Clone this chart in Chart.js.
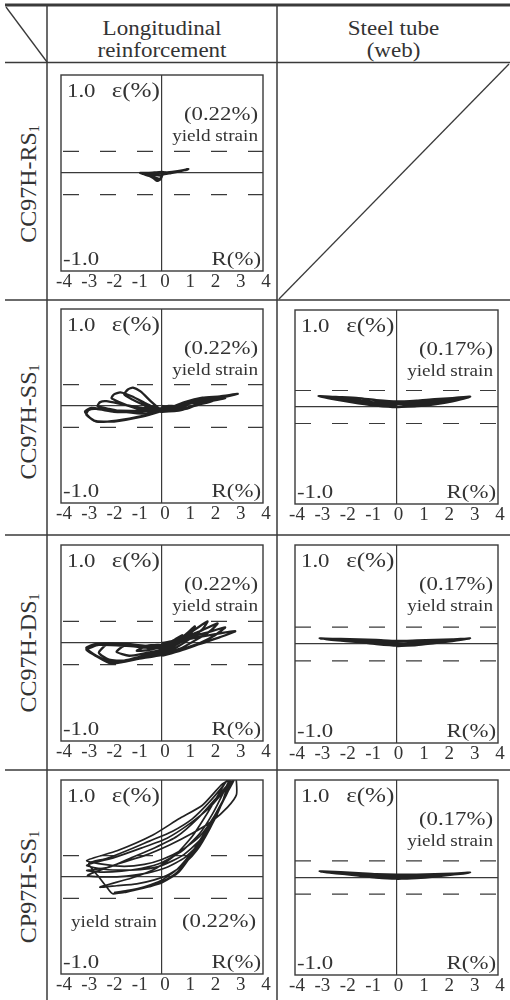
<!DOCTYPE html>
<html>
<head>
<meta charset="utf-8">
<script src="https://cdn.jsdelivr.net/npm/chart.js@4.4.1/dist/chart.umd.min.js"></script>
<style>
  body { margin: 0; background: #fff; }
  #page { position: relative; width: 510px; height: 1000px; overflow: hidden;
          font-family: 'Liberation Serif', 'Times New Roman', serif; color: #333; }
  #page canvas { position: absolute; }
  .hdr { position: absolute; text-align: center; font-size: 20px; line-height: 22px;
         transform: scaleX(1.15); }
  .row { position: absolute; font-size: 24px; white-space: nowrap;
         transform: translate(-50%, -50%) rotate(-90deg); }
  .row sub { font-size: 14px; vertical-align: -3px; }
</style>
</head>
<body>
<div id="page">
  <svg width="510" height="1000" style="position:absolute;left:0;top:0" stroke="#3a3a3a">
    <line x1="5" y1="5" x2="510" y2="5" stroke-width="3"/>
    <line x1="5" y1="62.5" x2="510" y2="62.5" stroke-width="1.5"/>
    <line x1="5" y1="300" x2="510" y2="300" stroke-width="1.5"/>
    <line x1="5" y1="535" x2="510" y2="535" stroke-width="1.5"/>
    <line x1="5" y1="770" x2="510" y2="770" stroke-width="1.5"/>
    <line x1="47" y1="6" x2="47" y2="1000" stroke-width="1.5"/>
    <line x1="277" y1="6" x2="277" y2="1000" stroke-width="1.5"/>
    <line x1="6" y1="7" x2="47" y2="62" stroke-width="1.3"/>
    <line x1="279" y1="299" x2="509" y2="64" stroke-width="1.3"/>
  </svg>

  <div class="hdr" style="left:47px;width:230px;top:17px">Longitudinal<br>reinforcement</div>
  <div class="hdr" style="left:277px;width:233px;top:17px">Steel tube<br>(web)</div>

  <div class="row" style="left:29px;top:184px">CC97H-RS<sub>1</sub></div>
  <div class="row" style="left:29px;top:422px">CC97H-SS<sub>1</sub></div>
  <div class="row" style="left:29px;top:653px">CC97H-DS<sub>1</sub></div>
  <div class="row" style="left:29px;top:887px">CP97H-SS<sub>1</sub></div>

  <canvas id="c1"></canvas>
  <canvas id="c2"></canvas>
  <canvas id="c3"></canvas>
  <canvas id="c4"></canvas>
  <canvas id="s2"></canvas>
  <canvas id="s3"></canvas>
  <canvas id="s4"></canvas>
</div>

<script>
// axes: drift angle R(%) and strain eps(%)
const rTicks = [-4, -3, -2, -1, 0, 1, 2, 3, 4];
const epsRange = [-1, 1];
const yieldLong = 0.22;   // longitudinal reinforcement
const yieldTube = 0.17;   // steel tube web

// [R(%), eps(%)] traces
const rs1Long = [
  [0, 0], [0.4, 0.01], [0.8, 0.025], [1.04, 0.04], [0.7, 0.02], [0.3, 0.0], [0, 0.01],
  [-0.3, 0.005], [-0.6, 0.0], [-0.87, 0.0], [-0.6, -0.02], [-0.35, -0.05], [-0.2, -0.08], [-0.05, -0.06], [0, -0.02],
  [0.35, 0.0], [0.75, 0.02], [1.0, 0.035], [0.6, 0.015], [0.2, -0.005], [-0.1, 0.0],
  [-0.45, 0.0], [-0.8, -0.005], [-0.5, -0.03], [-0.25, -0.065], [-0.1, -0.07], [0, -0.03],
  [-0.3, -0.02], [-0.6, -0.01], [-0.3, -0.045], [-0.1, -0.06], [0, -0.04]
];

const ss1Long = [
  [0, 0], [0.25, -0.01], [0.5, 0.0], [0.25, 0.0], [0, -0.02],
  [-0.3, -0.04], [-0.75, -0.03], [-0.5, 0.0], [-0.2, -0.02], [0, -0.04],
  [0.5, -0.03], [1.0, 0.01], [0.6, 0.0], [0.2, -0.03], [0, -0.05],
  [-0.3, -0.04], [-0.8, 0.02], [-1.2, 0.07], [-1.5, 0.12], [-1.35, 0.17], [-1.15, 0.19], [-0.85, 0.15], [-0.45, 0.05], [-0.1, -0.03], [0, -0.05],
  [0.6, -0.04], [1.1, -0.01], [1.5, 0.03], [1.1, 0.03], [0.5, -0.01], [0, -0.05],
  [-0.5, -0.06], [-1.2, -0.01], [-1.7, 0.04], [-2.0, 0.08], [-1.9, 0.12], [-1.65, 0.14], [-1.2, 0.1], [-0.6, 0.02], [-0.1, -0.04], [0, -0.05],
  [0.7, -0.04], [1.4, 0.01], [2.0, 0.05], [1.4, 0.04], [0.7, 0.0], [0, -0.04],
  [-0.6, -0.08], [-1.5, -0.06], [-2.1, -0.03], [-2.55, 0.0], [-2.45, 0.04], [-2.2, 0.05], [-1.6, 0.02], [-0.8, -0.02], [-0.1, -0.05], [0, -0.06],
  [0.8, -0.04], [1.6, 0.035], [2.5, 0.08], [1.7, 0.065], [0.8, 0.01], [0, -0.05],
  [-0.7, -0.1], [-1.8, -0.15], [-2.6, -0.16], [-3.0, -0.09], [-2.9, -0.04], [-2.6, -0.03], [-1.9, -0.06], [-1.0, -0.06], [-0.2, -0.05], [0, -0.06],
  [0.94, -0.03], [1.6, 0.035], [2.2, 0.075], [3.0, 0.125], [2.3, 0.1], [1.6, 0.085], [0.9, 0.04], [0.3, -0.02], [0, -0.05],
  [-0.8, -0.11], [-1.9, -0.16], [-2.7, -0.15], [-3.05, -0.06], [-2.8, -0.02], [-2.2, -0.04], [-1.2, -0.05], [-0.3, -0.04], [0, -0.05]
];

const ds1Long = [
  [0, 0], [0.4, 0.02], [0.8, 0.08], [0.6, 0.02], [0.2, -0.03], [0, -0.04],
  [-0.5, -0.07], [-1.0, -0.08], [-0.6, -0.03], [-0.2, -0.02], [0, -0.03],
  [0.5, 0.02], [0.9, 0.08], [1.3, 0.17], [1.15, 0.1], [0.8, 0.02], [0.4, -0.04], [0, -0.07],
  [-0.6, -0.1], [-1.3, -0.13], [-1.8, -0.09], [-1.5, -0.03], [-0.8, -0.03], [-0.2, -0.02], [0, -0.02],
  [0.6, 0.04], [1.2, 0.12], [1.8, 0.22], [1.6, 0.14], [1.2, 0.06], [0.6, -0.04], [0, -0.09],
  [-0.7, -0.13], [-1.5, -0.18], [-2.1, -0.17], [-2.5, -0.1], [-2.2, -0.02], [-1.4, -0.01], [-0.6, -0.03], [0, -0.03],
  [0.7, 0.04], [1.5, 0.12], [2.2, 0.2], [1.9, 0.12], [1.4, 0.04], [0.7, -0.06], [0, -0.1],
  [-0.8, -0.15], [-1.9, -0.2], [-2.6, -0.13], [-3.0, -0.05], [-2.6, -0.01], [-1.5, -0.01], [-0.6, -0.04], [0, -0.04],
  [0.8, 0.04], [1.7, 0.1], [2.5, 0.16], [2.1, 0.08], [1.5, 0.0], [0.7, -0.07], [0, -0.12],
  [-0.9, -0.16], [-2.0, -0.21], [-2.7, -0.12], [-3.0, -0.07], [-2.5, -0.02], [-1.4, -0.03], [-0.5, -0.05], [0, -0.05],
  [0.9, 0.03], [1.9, 0.08], [2.9, 0.12], [2.3, 0.06], [1.5, -0.01], [0.7, -0.08], [0, -0.13]
];

const cp97Long = [
  [-1.97, -0.175], [-1.5, -0.16], [-1.0, -0.13], [-0.5, -0.1], [0, -0.06], [0.67, 0.05], [1.33, 0.29], [1.86, 0.53], [2.52, 0.84], [2.85, 1.0],
  [2.6, 0.95], [2.1, 0.8], [1.4, 0.6], [0.6, 0.42], [-0.3, 0.3], [-1.2, 0.2], [-2.1, 0.1], [-2.98, 0.067],
  [-2.4, 0.05], [-1.6, 0.06], [-0.8, 0.09], [0, 0.15], [0.8, 0.27], [1.5, 0.45], [2.0, 0.65], [2.45, 0.88], [2.65, 1.0],
  [2.35, 0.95], [1.6, 0.74], [0.67, 0.6], [-0.38, 0.43], [-1.78, 0.27], [-2.98, 0.17],
  [-2.3, 0.13], [-1.5, 0.11], [-0.7, 0.13], [0, 0.18], [0.8, 0.28], [1.5, 0.42], [2.1, 0.64], [2.6, 0.88], [2.8, 1.0],
  [2.5, 0.9], [1.9, 0.72], [1.1, 0.55], [0.2, 0.4], [-0.8, 0.3], [-1.9, 0.2], [-2.98, 0.12],
  [-2.3, 0.08], [-1.5, 0.07], [-0.7, 0.08], [0, 0.12], [0.8, 0.22], [1.5, 0.38], [2.1, 0.62], [2.55, 0.85], [2.9, 1.05],
  [2.95, 0.85], [2.6, 0.72], [2.0, 0.58], [1.2, 0.45], [0.3, 0.33], [-0.7, 0.22], [-1.8, 0.13], [-2.95, 0.016],
  [-2.2, 0.0], [-1.4, 0.01], [-0.6, 0.04], [0.2, 0.1], [0.9, 0.2], [1.5, 0.35], [2.0, 0.55], [2.4, 0.78], [2.6, 0.95], [2.7, 1.05],
  [2.3, 0.88], [1.8, 0.66], [1.2, 0.42], [0.5, 0.22], [-0.3, 0.08], [-1.2, -0.01], [-2.46, -0.105],
  [-1.8, -0.09], [-1.0, -0.07], [-0.3, -0.03], [0.3, 0.03], [0.9, 0.14], [1.4, 0.28], [1.9, 0.5], [2.3, 0.72], [2.6, 0.92], [2.75, 1.05],
  [2.45, 0.95], [1.9, 0.78], [1.2, 0.6], [0.4, 0.47], [-0.5, 0.37], [-1.4, 0.27], [-2.2, 0.19], [-2.9, 0.14],
  [-2.5, 0.0], [-2.2, -0.1], [-1.97, -0.17], [-1.4, -0.15], [-0.9, -0.12], [-0.4, -0.09], [0, -0.05], [0.6, 0.05], [1.3, 0.27], [1.85, 0.5], [2.45, 0.8], [2.9, 1.05],
  [2.5, 0.82], [1.9, 0.55], [1.3, 0.3], [0.6, 0.08], [0, -0.03], [-0.7, -0.1], [-1.4, -0.14], [-1.9, -0.16]
];

const ss1Web = [
  [0, 0.0], [0.8, 0.01], [1.5, 0.03], [2.2, 0.06], [2.9, 0.105], [2.2, 0.09], [1.5, 0.08], [0.8, 0.065], [0, 0.055],
  [-0.8, 0.07], [-1.5, 0.09], [-2.2, 0.1], [-3.07, 0.11], [-2.2, 0.07], [-1.5, 0.04], [-0.8, 0.015], [0, 0.0],
  [0.8, 0.03], [1.5, 0.055], [2.2, 0.08], [2.7, 0.1], [2.2, 0.075], [1.5, 0.06], [0.8, 0.045], [0, 0.03],
  [-0.8, 0.045], [-1.5, 0.065], [-2.2, 0.085], [-2.9, 0.105], [-2.2, 0.08], [-1.5, 0.06], [-0.8, 0.035], [0, 0.015]
];

const ds1Web = [
  [0, -0.02], [0.8, -0.01], [1.5, 0.01], [2.2, 0.03], [2.9, 0.055], [2.2, 0.045], [1.5, 0.04], [0.8, 0.035], [0, 0.03],
  [-0.8, 0.04], [-1.5, 0.045], [-2.2, 0.05], [-3.03, 0.055], [-2.2, 0.035], [-1.5, 0.02], [-0.8, 0.0], [0, -0.015],
  [0.8, 0.0], [1.5, 0.02], [2.2, 0.035], [2.6, 0.05], [2.0, 0.035], [1.2, 0.02], [0.5, 0.01], [0, 0.005],
  [-0.6, 0.015], [-1.4, 0.03], [-2.3, 0.045], [-2.8, 0.05], [-2.0, 0.03], [-1.0, 0.01], [0, -0.01]
];

const cp97Web = [
  [0, -0.014], [0.8, -0.005], [1.5, 0.01], [2.2, 0.03], [2.9, 0.05], [2.2, 0.04], [1.5, 0.035], [0.8, 0.03], [0, 0.03],
  [-0.8, 0.035], [-1.5, 0.045], [-2.2, 0.055], [-3.03, 0.062], [-2.2, 0.04], [-1.5, 0.02], [-0.8, 0.0], [0, -0.01],
  [0.8, 0.005], [1.5, 0.02], [2.3, 0.035], [2.7, 0.045], [2.0, 0.03], [1.2, 0.02], [0.5, 0.01], [0, 0.01],
  [-0.6, 0.02], [-1.4, 0.03], [-2.3, 0.045], [-2.8, 0.055], [-2.0, 0.035], [-1.0, 0.015], [0, -0.005]
];

const ink = '#222';
const lineCol = '#3a3a3a';
const txtCol = '#333';
Chart.defaults.font.family = "'Liberation Serif', 'Times New Roman', serif";

// draw text slightly stretched horizontally like the scanned figure
function drawText(ctx, text, x, y, size, align) {
  ctx.save();
  ctx.translate(x, y);
  ctx.scale(1.2, 1);
  ctx.font = size + "px 'Liberation Serif', serif";
  ctx.fillStyle = txtCol;
  ctx.textAlign = align;
  ctx.textBaseline = 'alphabetic';
  ctx.fillText(text, 0, 0);
  ctx.restore();
}

const panels = [
  { id: 'c1', box: [61, 75, 202, 196], loop: rs1Long, yieldV: yieldLong, pct: '(0.22%)', dashOff: 35, labelOff: 3, lw: 2.4 },
  { id: 'c2', box: [61, 309, 202, 194], loop: ss1Long, yieldV: yieldLong, pct: '(0.22%)', dashOff: 35, labelOff: 3, lw: 2.3 },
  { id: 'c3', box: [61, 545, 202, 196], loop: ds1Long, yieldV: yieldLong, pct: '(0.22%)', dashOff: 35, labelOff: 3, lw: 2.3 },
  { id: 'c4', box: [61, 780, 202, 194], loop: cp97Long, yieldV: yieldLong, pct: '(0.22%)', dashOff: 35, labelOff: 3, lw: 1.7, lowNote: true },
  { id: 's2', box: [295, 310, 203, 194], loop: ss1Web, yieldV: yieldTube, pct: '(0.17%)', dashOff: 0, labelOff: 2, lw: 2.6 },
  { id: 's3', box: [295, 545, 203, 198], loop: ds1Web, yieldV: yieldTube, pct: '(0.17%)', dashOff: 0, labelOff: 2, lw: 2.4 },
  { id: 's4', box: [295, 780, 203, 195], loop: cp97Web, yieldV: yieldTube, pct: '(0.17%)', dashOff: 0, labelOff: 2, lw: 2.4 }
];

const decor = {
  id: 'decor',
  afterDraw(chart) {
    const p = chart.options.plugins.decor;
    const ctx = chart.ctx;
    const a = chart.chartArea;
    const x0 = chart.scales.x.getPixelForValue(0);
    ctx.save();
    ctx.strokeStyle = lineCol;
    ctx.lineWidth = 1.4;
    ctx.strokeRect(a.left, a.top, a.right - a.left, a.bottom - a.top);
    ctx.restore();
    drawText(ctx, '1.0', a.left + 6, a.top + 22, 19, 'left');
    drawText(ctx, 'ε(%)', x0 - 2, a.top + 22, 21, 'right');
    if (p.lowNote) {
      drawText(ctx, 'yield strain', a.left + 10, a.top + 147, 16, 'left');
      drawText(ctx, p.pct, a.right - 7, a.top + 147, 19, 'right');
    } else {
      drawText(ctx, p.pct, a.right - 5, a.top + 45, 19, 'right');
      drawText(ctx, 'yield strain', a.right - 5, a.top + 66, 16, 'right');
    }
    drawText(ctx, '-1.0', a.left + 2, a.bottom - 6, 19, 'left');
    drawText(ctx, 'R(%)', a.right - 2, a.bottom - 6, 19, 'right');
  }
};

function zeroOnly(c) {
  return c.tick && c.tick.value === 0 ? lineCol : 'rgba(0,0,0,0)';
}

function makePanel(p) {
  const cv = document.getElementById(p.id);
  const padL = 10, padR = 16, padT = 4, axisH = 24;
  cv.width = p.box[2] + padL + padR;
  cv.height = p.box[3] + padT + axisH;
  cv.style.left = (p.box[0] - padL) + 'px';
  cv.style.top = (p.box[1] - padT) + 'px';

  const rMin = rTicks[0], rMax = rTicks[rTicks.length - 1];
  const dash = (v) => ({
    data: [{ x: rMin, y: v }, { x: rMax, y: v }],
    showLine: true, borderColor: lineCol, borderWidth: 1.2,
    borderDash: [16, 21], borderDashOffset: p.dashOff, pointRadius: 0
  });

  new Chart(cv, {
    type: 'scatter',
    data: {
      datasets: [
        {
          data: p.loop.map(([r, e]) => ({ x: r, y: e })),
          showLine: true, borderColor: ink, borderWidth: p.lw,
          pointRadius: 0, tension: 0.2
        },
        dash(p.yieldV),
        dash(-p.yieldV)
      ]
    },
    options: {
      responsive: false,
      animation: false,
      devicePixelRatio: 1,
      layout: { padding: { left: padL, right: padR, top: padT, bottom: 0 } },
      plugins: {
        legend: { display: false },
        tooltip: { enabled: false },
        decor: p
      },
      scales: {
        x: {
          type: 'linear', min: rMin, max: rMax,
          afterBuildTicks: (s) => { s.ticks = rTicks.map(v => ({ value: v })); },
          afterFit: (s) => { s.height = axisH; },
          border: { display: false },
          grid: { drawTicks: false, color: zeroOnly, lineWidth: 1.2 },
          ticks: {
            autoSkip: false, maxRotation: 0, padding: 0, labelOffset: p.labelOff,
            color: txtCol, font: { size: 19 },
            callback: (v) => String(v)
          }
        },
        y: {
          min: epsRange[0], max: epsRange[1],
          afterFit: (s) => { s.width = 0; },
          border: { display: false },
          grid: { drawTicks: false, color: zeroOnly, lineWidth: 1.2 },
          ticks: { display: false, stepSize: 1 }
        }
      }
    },
    plugins: [decor]
  });
}

panels.forEach(makePanel);
</script>
</body>
</html>
